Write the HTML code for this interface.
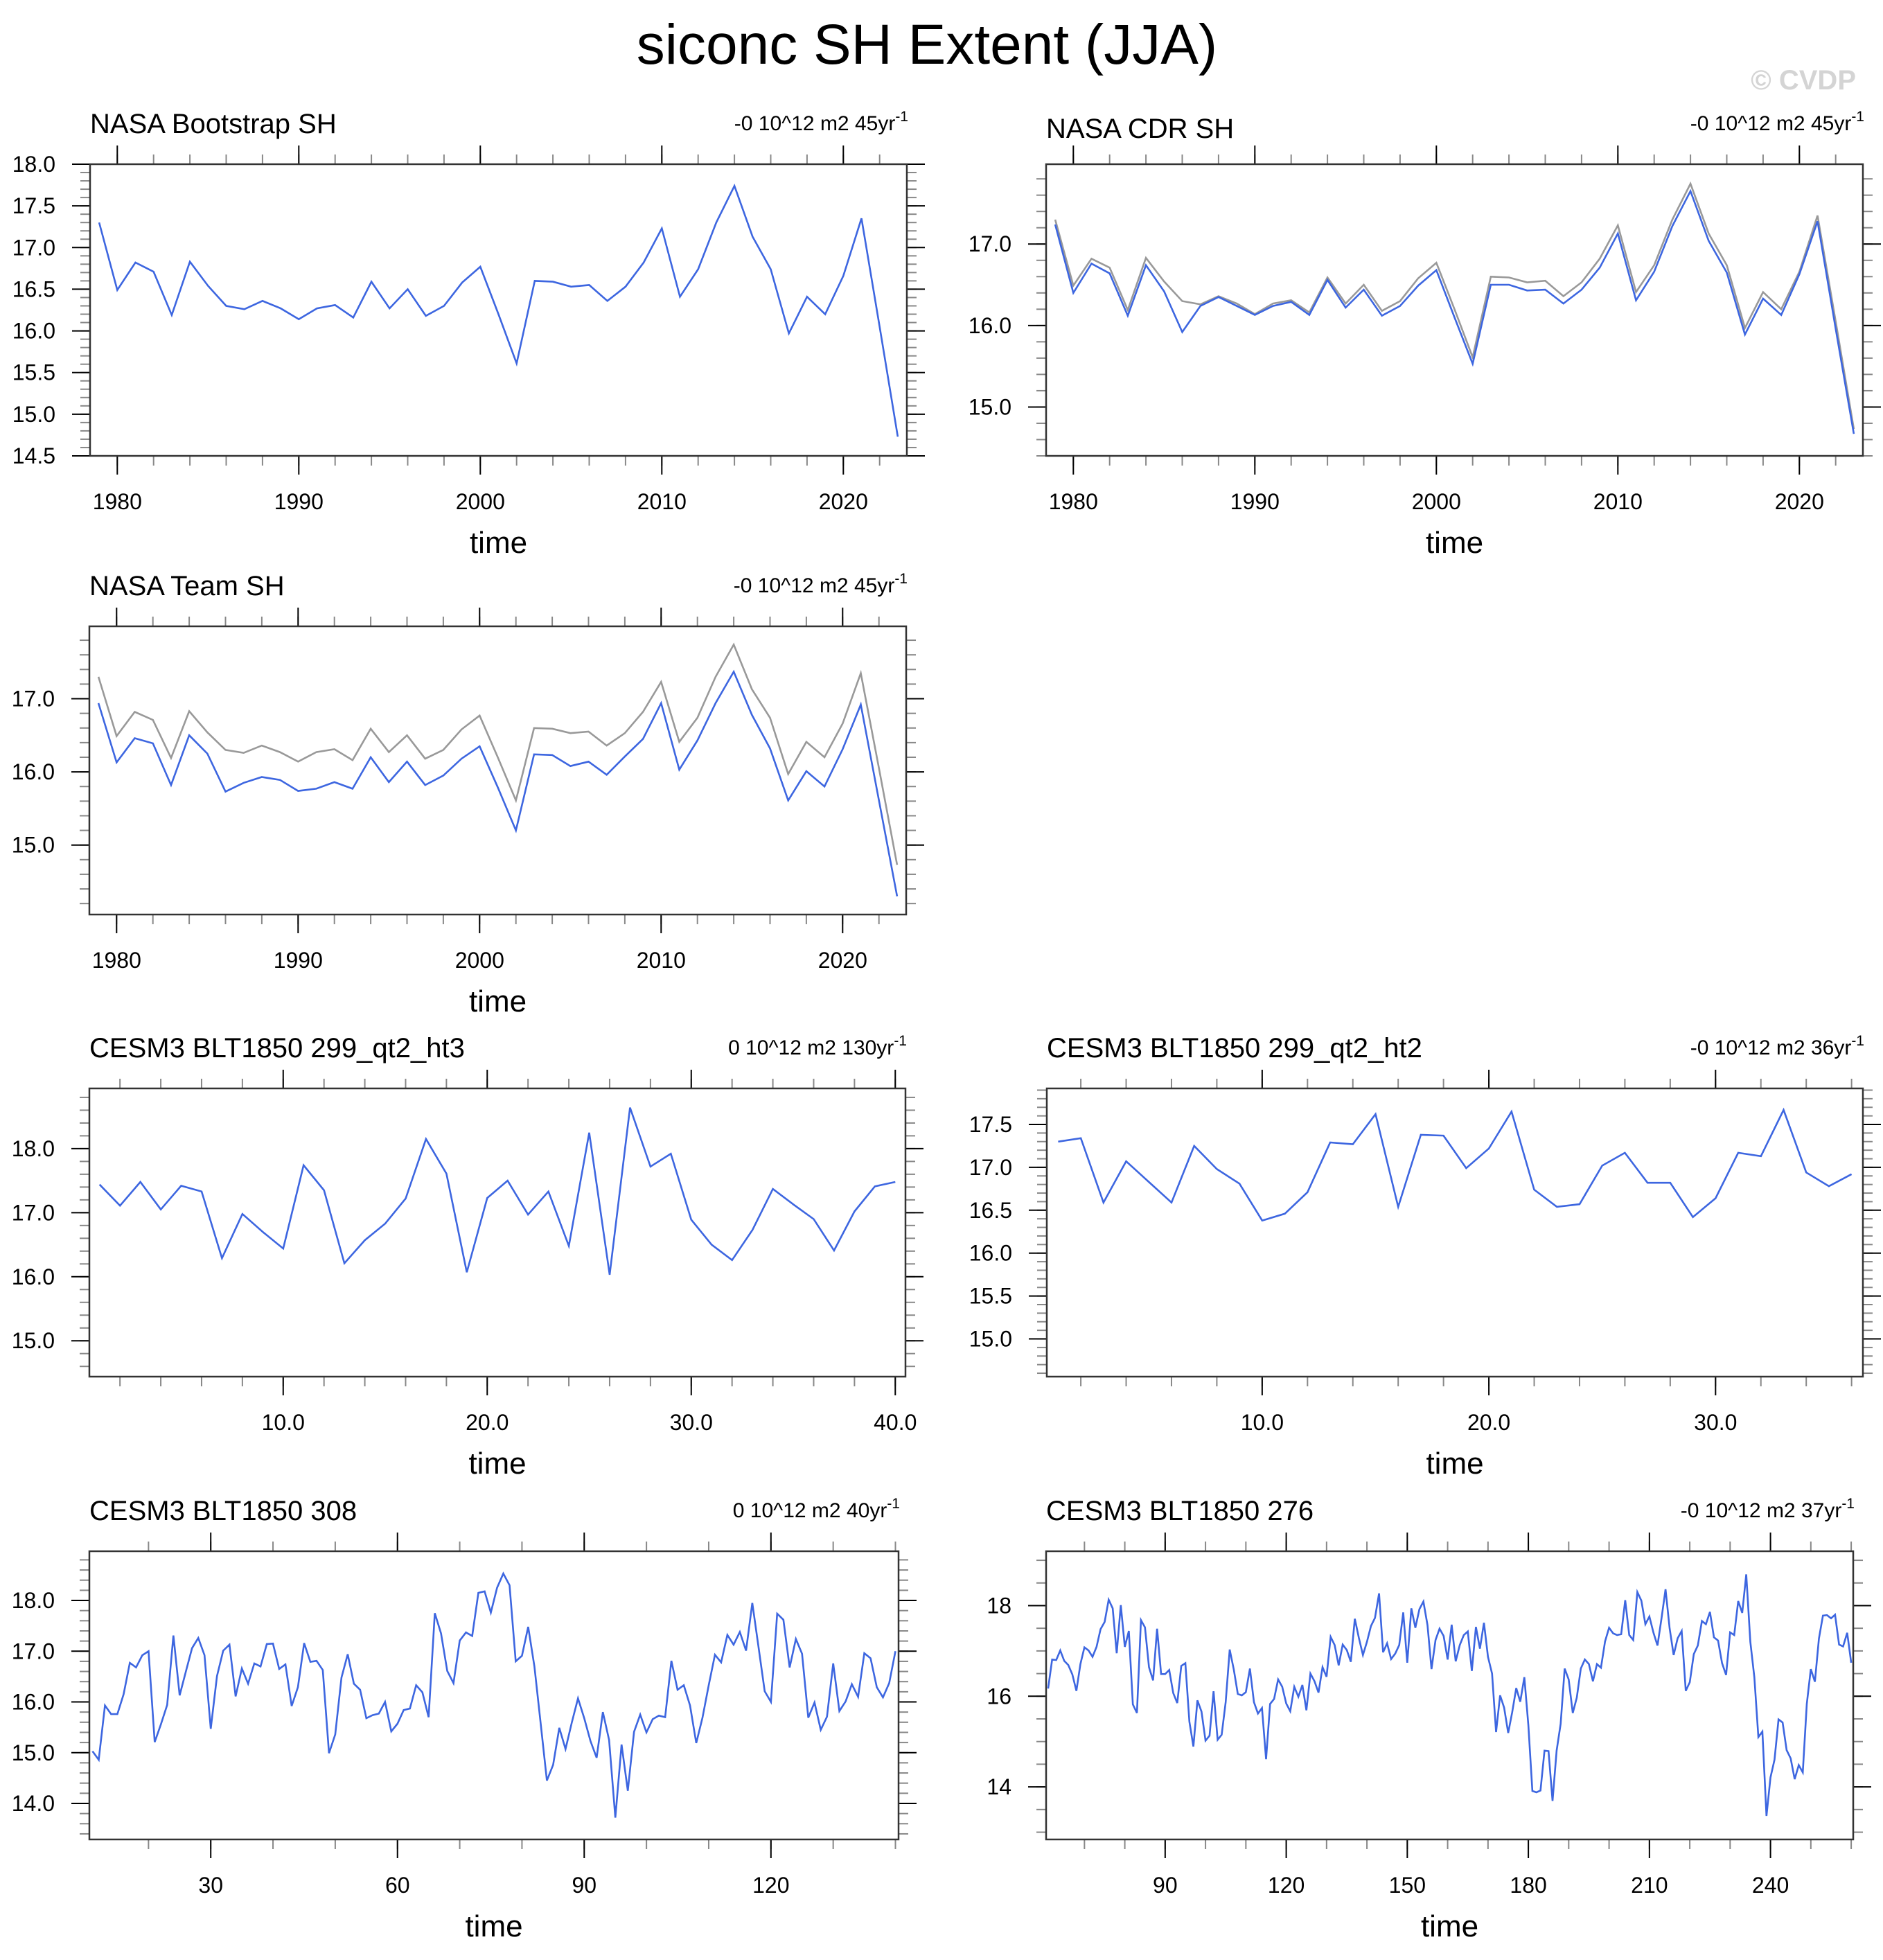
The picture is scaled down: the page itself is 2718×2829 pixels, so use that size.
<!DOCTYPE html>
<html><head><meta charset="utf-8">
<style>
html,body{margin:0;padding:0;background:#fff;}
svg{display:block;font-family:"Liberation Sans",Arial,sans-serif;}
</style></head>
<body>
<svg id="chart" width="2718" height="2829" viewBox="0 0 2718 2829" xmlns="http://www.w3.org/2000/svg">
<rect x="0" y="0" width="2718" height="2829" fill="#fff"/>
<text x="1338" y="92" font-size="82" text-anchor="middle" fill="#000">siconc SH Extent (JJA)</text>
<text x="2679" y="129" font-size="40" font-weight="bold" text-anchor="end" fill="#d4d4d4">© CVDP</text>
</svg>
<script>
const bootstrapYears = [1979,1980,1981,1982,1983,1984,1985,1986,1987,1988,1989,1990,1991,1992,1993,1994,1995,1996,1997,1998,1999,2000,2001,2002,2003,2004,2005,2006,2007,2008,2009,2010,2011,2012,2013,2014,2015,2016,2017,2018,2019,2020,2021,2022,2023];
const bootstrapVals = [17.30,16.49,16.82,16.71,16.19,16.83,16.54,16.30,16.26,16.36,16.27,16.14,16.27,16.31,16.16,16.59,16.27,16.50,16.18,16.30,16.58,16.77,16.20,15.61,16.60,16.59,16.53,16.55,16.36,16.53,16.82,17.23,16.41,16.74,17.30,17.74,17.13,16.74,15.97,16.41,16.20,16.66,17.35,16.05,14.73];
const cdrVals = [17.24,16.40,16.76,16.64,16.12,16.74,16.42,15.92,16.24,16.35,16.24,16.13,16.24,16.29,16.13,16.56,16.22,16.44,16.12,16.24,16.49,16.68,16.10,15.53,16.50,16.50,16.43,16.44,16.27,16.44,16.71,17.13,16.31,16.66,17.22,17.65,17.04,16.65,15.89,16.33,16.13,16.63,17.28,15.96,14.67];
const teamVals = [16.94,16.13,16.46,16.39,15.82,16.50,16.25,15.73,15.85,15.93,15.89,15.74,15.77,15.86,15.77,16.20,15.86,16.14,15.82,15.95,16.18,16.35,15.79,15.20,16.24,16.23,16.08,16.14,15.96,16.21,16.45,16.94,16.03,16.43,16.94,17.37,16.78,16.32,15.61,16.01,15.80,16.31,16.92,15.61,14.30];
const ht3Start = 1;
const ht3Vals = [17.44,17.11,17.48,17.05,17.42,17.33,16.29,16.98,16.70,16.44,17.74,17.35,16.21,16.57,16.83,17.22,18.15,17.61,16.07,17.23,17.50,16.97,17.33,16.48,18.25,16.03,18.64,17.72,17.92,16.89,16.50,16.26,16.73,17.37,17.13,16.90,16.41,17.02,17.41,17.48];
const ht2Start = 1;
const ht2Vals = [17.30,17.34,16.59,17.07,16.83,16.59,17.25,16.98,16.81,16.38,16.46,16.71,17.29,17.27,17.62,16.54,17.38,17.37,16.99,17.22,17.65,16.74,16.54,16.57,17.02,17.17,16.82,16.82,16.42,16.64,17.17,17.13,17.67,16.94,16.78,16.92];
const r308Start = 11;
const r308Vals = [15.03,14.86,15.93,15.76,15.76,16.15,16.77,16.68,16.92,17.00,15.21,15.56,15.94,17.31,16.13,16.60,17.06,17.26,16.92,15.47,16.51,17.01,17.13,16.11,16.66,16.36,16.76,16.70,17.14,17.15,16.65,16.74,15.92,16.29,17.16,16.79,16.81,16.63,14.99,15.36,16.48,16.94,16.36,16.24,15.68,15.74,15.77,16.00,15.42,15.57,15.84,15.87,16.33,16.19,15.70,17.75,17.35,16.61,16.37,17.21,17.37,17.30,18.15,18.18,17.76,18.25,18.53,18.30,16.80,
16.91,17.48,16.70,15.58,14.45,14.76,15.49,15.07,15.59,16.07,15.68,15.23,14.90,15.80,15.25,13.72,15.16,14.25,15.41,15.75,15.40,15.66,15.73,15.70,16.81,16.24,16.33,15.93,15.19,15.69,16.33,16.93,16.78,17.32,17.13,17.38,17.01,17.95,17.09,16.21,16.00,17.74,17.62,16.68,17.24,16.95,15.69,15.99,15.45,15.71,16.76,15.82,16.01,16.35,16.10,16.96,16.86,16.29,16.09,16.37,17.00];
const r276Start = 61;
const r276Vals = [16.17,16.81,16.80,17.01,16.78,16.69,16.48,16.12,16.71,17.08,17.01,16.87,17.09,17.48,17.64,18.13,17.94,16.95,18.01,17.09,17.44,15.82,15.63,17.68,17.52,16.64,16.35,17.49,16.49,16.49,16.58,16.07,15.85,16.67,16.73,15.44,14.89,15.91,15.66,15.02,15.13,16.11,15.04,15.15,15.87,17.03,16.59,16.05,16.02,16.09,16.61,15.87,15.62,15.74,14.61,15.83,15.94,16.37,16.21,15.84,15.67,16.21,15.99,16.25,15.69,16.50,16.33,16.08,16.64,16.43,17.31,17.13,16.68,17.14,17.02,16.76,17.71,17.29,16.91,17.20,17.55,17.73,18.27,16.97,17.17,16.82,16.94,17.13,17.85,16.74,17.94,17.51,17.92,18.09,17.57,16.60,17.24,17.49,17.33,16.81,17.58,
16.77,17.13,17.35,17.43,16.56,17.53,17.05,17.62,16.87,16.50,15.21,16.02,15.75,15.19,15.65,16.18,15.88,16.42,15.36,13.91,13.88,13.92,14.80,14.79,13.69,14.80,15.39,16.61,16.37,15.63,15.97,16.61,16.81,16.71,16.33,16.71,16.63,17.21,17.51,17.39,17.35,17.37,18.12,17.35,17.24,18.30,18.11,17.59,17.76,17.40,17.12,17.72,18.36,17.50,16.91,17.28,17.44,16.12,16.31,16.93,17.12,17.66,17.59,17.86,17.30,17.23,16.73,16.47,17.41,17.35,18.10,17.84,18.69,17.20,16.42,15.10,15.22,13.36,14.21,14.60,15.49,15.42,14.81,14.63,14.17,14.48,14.32,15.83,16.60,16.32,17.27,17.78,17.79,17.72,17.80,17.14,17.10,17.40,16.74];

const yearMajor = [1980,1990,2000,2010,2020];
const ht3XMajor = [10,20,30,40];
const ht2XMajor = [10,20,30];
const r308XMajor = [30,60,90,120];
const r276XMajor = [90,120,150,180,210,240];
const p1YMajor = [14.5,15.0,15.5,16.0,16.5,17.0,17.5,18.0];
const p2YMajor = [15.0,16.0,17.0];
const p5YMajor = [15.0,16.0,17.0,18.0];
const p6YMajor = [15.0,15.5,16.0,16.5,17.0,17.5];
const p7YMajor = [14.0,15.0,16.0,17.0,18.0];
const p8YMajor = [14,16,18];

const NS = "http://www.w3.org/2000/svg";
const svg = document.getElementById('chart');
function mk(tag, attrs, parent){
  const e = document.createElementNS(NS, tag);
  for (const k in attrs) e.setAttribute(k, attrs[k]);
  parent.appendChild(e);
  return e;
}
function range(a,b,s){const r=[];for(let v=a;v<=b+1e-9;v+=s)r.push(Math.round(v*1000)/1000);return r;}

function panel(c){
  const g = mk('g',{},svg);
  
  
  const sx = v => c.x0 + (v - c.xmin)/(c.xmax - c.xmin)*(c.x1 - c.x0);
  const sy = v => c.y1 - (v - c.ymin)/(c.ymax - c.ymin)*(c.y1 - c.y0);
  c.xMinor.forEach(v=>{
    if (v < c.xmin || v > c.xmax) return;
    const x = sx(v);
    const t1 = mk('line',{x1:x,x2:x,y1:c.y0,y2:c.y0-14,stroke:'#888','stroke-width':2},g);
    
    
    const t2 = mk('line',{x1:x,x2:x,y1:c.y1,y2:c.y1+14,stroke:'#888','stroke-width':2},g);
    
    
  });
  c.yMinor.forEach(v=>{
    if (v < c.ymin || v > c.ymax) return;
    const y = sy(v);
    const t1 = mk('line',{x1:c.x0,x2:c.x0-14,y1:y,y2:y,stroke:'#888','stroke-width':2},g);
    
    
    const t2 = mk('line',{x1:c.x1,x2:c.x1+14,y1:y,y2:y,stroke:'#888','stroke-width':2},g);
    
    
  });
  c.xMajor.forEach(v=>{
    const x = sx(v);
    const t1 = mk('line',{x1:x,x2:x,y1:c.y0,y2:c.y0-27,stroke:'#000','stroke-width':2},g);
    
    
    const t2 = mk('line',{x1:x,x2:x,y1:c.y1,y2:c.y1+27,stroke:'#000','stroke-width':2},g);
    
    
    const lb = mk('text',{x:x,y:c.y1+77,'font-size':32,'text-anchor':'middle',fill:'#000'},g);
    lb.textContent = c.xFmt(v);
    
    
  });
  c.yMajor.forEach(v=>{
    const y = sy(v);
    const t1 = mk('line',{x1:c.x0,x2:c.x0-26,y1:y,y2:y,stroke:'#000','stroke-width':2},g);
    
    
    const t2 = mk('line',{x1:c.x1,x2:c.x1+26,y1:y,y2:y,stroke:'#000','stroke-width':2},g);
    
    
    const lb = mk('text',{x:c.x0-50,y:y+11,'font-size':32,'text-anchor':'end',fill:'#000'},g);
    lb.textContent = c.yFmt(v);
    
    
  });
  c.series.forEach(s=>{
    const pts = s.vals.map((v,i)=> sx(s.xs ? s.xs[i] : s.start + i).toFixed(1)+','+sy(v).toFixed(1)).join(' ');
    const pl = mk('polyline',{points:pts,fill:'none',stroke:s.color,'stroke-width':2.6,'stroke-linejoin':'miter'},g);
    
    
  });
  const fr = mk('rect',{x:c.x0,y:c.y0,width:c.x1-c.x0,height:c.y1-c.y0,fill:'none',stroke:'#333','stroke-width':2.5},g);
  
  
  const tt = mk('text',{x:c.x0,y:c.y0-c.titleOff,'font-size':40,fill:'#000'},g);
  tt.textContent = c.title;
  
  
  const an = mk('text',{x:c.x1+2,y:c.y0-49,'font-size':30,'text-anchor':'end',fill:'#000'},g);
  
  
  const a1 = mk('tspan',{},an); a1.textContent = c.ann;
  const a2 = mk('tspan',{dy:-13,'font-size':21},an); a2.textContent = '-1';
  const xt = mk('text',{x:(c.x0+c.x1)/2,y:c.y1+140,'font-size':44,'text-anchor':'middle',fill:'#000'},g);
  xt.textContent = 'time';
  
  
}
const f1 = v => v.toFixed(1), f0 = v => String(Math.round(v));
const blue = '#3d66e0', gray = '#999999';

panel({name:'panel-nasa-bootstrap',x0:130,x1:1309,y0:237,y1:658,xmin:1978.5,xmax:2023.5,ymin:14.5,ymax:18.0,
  xMajor:yearMajor,xMinor:range(1980,2022,2),yMajor:p1YMajor,yMinor:range(14.5,18.0,0.1),xFmt:f0,yFmt:f1,
  title:'NASA Bootstrap SH',titleOff:45,ann:'-0 10^12 m2 45yr',
  series:[{name:'bootstrap-line',xs:bootstrapYears,vals:bootstrapVals,color:blue}]});
panel({name:'panel-nasa-cdr',x0:1510,x1:2689,y0:237,y1:658,xmin:1978.5,xmax:2023.5,ymin:14.40,ymax:17.98,
  xMajor:yearMajor,xMinor:range(1980,2022,2),yMajor:p2YMajor,yMinor:range(14.4,17.8,0.2),xFmt:f0,yFmt:f1,
  title:'NASA CDR SH',titleOff:38,ann:'-0 10^12 m2 45yr',
  series:[{name:'bootstrap-reference-line',xs:bootstrapYears,vals:bootstrapVals,color:gray},
          {name:'cdr-line',xs:bootstrapYears,vals:cdrVals,color:blue}]});
panel({name:'panel-nasa-team',x0:129,x1:1308,y0:904,y1:1320,xmin:1978.5,xmax:2023.5,ymin:14.05,ymax:17.99,
  xMajor:yearMajor,xMinor:range(1980,2022,2),yMajor:p2YMajor,yMinor:range(14.2,17.8,0.2),xFmt:f0,yFmt:f1,
  title:'NASA Team SH',titleOff:45,ann:'-0 10^12 m2 45yr',
  series:[{name:'bootstrap-reference-line',xs:bootstrapYears,vals:bootstrapVals,color:gray},
          {name:'team-line',xs:bootstrapYears,vals:teamVals,color:blue}]});
panel({name:'panel-cesm3-ht3',x0:129,x1:1307,y0:1571,y1:1987,xmin:0.5,xmax:40.5,ymin:14.44,ymax:18.94,
  xMajor:ht3XMajor,xMinor:range(2,40,2),yMajor:p5YMajor,yMinor:range(14.6,18.8,0.2),xFmt:f1,yFmt:f1,
  title:'CESM3 BLT1850 299_qt2_ht3',titleOff:45,ann:'0 10^12 m2 130yr',
  series:[{name:'ht3-line',start:ht3Start,vals:ht3Vals,color:blue}]});
panel({name:'panel-cesm3-ht2',x0:1511,x1:2689,y0:1571,y1:1987,xmin:0.5,xmax:36.5,ymin:14.56,ymax:17.92,
  xMajor:ht2XMajor,xMinor:range(2,36,2),yMajor:p6YMajor,yMinor:range(14.6,17.9,0.1),xFmt:f1,yFmt:f1,
  title:'CESM3 BLT1850 299_qt2_ht2',titleOff:45,ann:'-0 10^12 m2 36yr',
  series:[{name:'ht2-line',start:ht2Start,vals:ht2Vals,color:blue}]});
panel({name:'panel-cesm3-308',x0:129,x1:1297,y0:2239,y1:2655,xmin:10.5,xmax:140.5,ymin:13.29,ymax:18.97,
  xMajor:r308XMajor,xMinor:range(20,140,10),yMajor:p7YMajor,yMinor:range(13.4,18.8,0.2),xFmt:f0,yFmt:f1,
  title:'CESM3 BLT1850 308',titleOff:45,ann:'0 10^12 m2 40yr',
  series:[{name:'run-308-line',start:r308Start,vals:r308Vals,color:blue}]});
panel({name:'panel-cesm3-276',x0:1510,x1:2675,y0:2239,y1:2655,xmin:60.5,xmax:260.5,ymin:12.84,ymax:19.2,
  xMajor:r276XMajor,xMinor:range(70,260,10),yMajor:p8YMajor,yMinor:range(13,19,0.5),xFmt:f0,yFmt:f0,
  title:'CESM3 BLT1850 276',titleOff:45,ann:'-0 10^12 m2 37yr',
  series:[{name:'run-276-line',start:r276Start,vals:r276Vals,color:blue}]});
</script>
</body></html>
